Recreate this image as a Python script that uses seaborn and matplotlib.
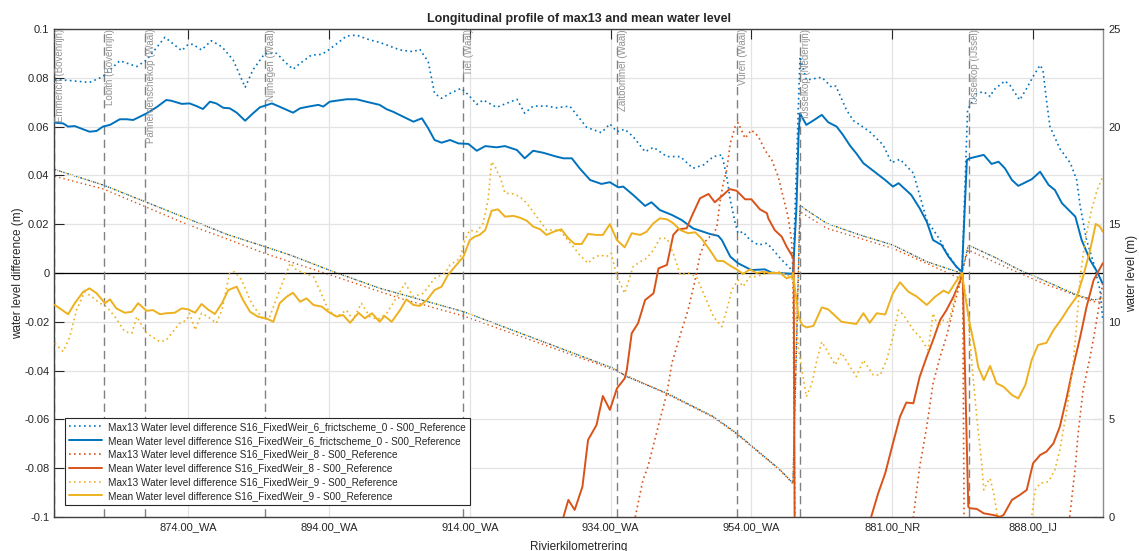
import numpy as np
import matplotlib
matplotlib.use("Agg")
import matplotlib.pyplot as plt
import seaborn as sns
from matplotlib.ticker import FuncFormatter

sns.set_style("white")
plt.rcParams["font.family"] = ["Liberation Sans", "DejaVu Sans"]

# ---------------------------------------------------------------------------
# Chainage along the plotted route (Waal -> Nederrijn -> IJssel), in km units
# of the profile axis, with the water level differences (m) per scenario.
# ---------------------------------------------------------------------------
fw6_max13 = [
    (0.07, 0.0791), (1.7, 0.0790), (5.0, 0.0781), (6.9, 0.0805), (9.3, 0.0870), (11.7, 0.0846),
    (13.1, 0.0873), (15.7, 0.0966), (18.1, 0.0911), (19.0, 0.0937), (19.7, 0.0937), (20.9, 0.0914),
    (22.3, 0.0952), (23.8, 0.0927), (25.4, 0.0873), (27.1, 0.0761), (28.2, 0.0832), (29.9, 0.0900),
    (31.6, 0.0900), (32.7, 0.0866), (33.9, 0.0835), (34.9, 0.0859), (36.5, 0.0893), (38.0, 0.0896),
    (39.1, 0.0917), (41.5, 0.0971), (42.9, 0.0975), (44.8, 0.0955), (46.2, 0.0945), (49.1, 0.0914),
    (51.0, 0.0907), (51.9, 0.0917), (53.1, 0.0866), (54.0, 0.0736), (55.0, 0.0716), (56.2, 0.0736),
    (57.8, 0.0757), (58.8, 0.0730), (60.0, 0.0691), (60.9, 0.0709), (62.8, 0.0679), (64.2, 0.0695),
    (65.7, 0.0712), (66.8, 0.0655), (68.0, 0.0684), (69.9, 0.0684), (71.3, 0.0677), (73.2, 0.0684),
    (74.2, 0.0648), (75.6, 0.0597), (77.7, 0.0575), (78.9, 0.0611), (79.9, 0.0579), (81.0, 0.0589),
    (82.2, 0.0559), (83.9, 0.0497), (85.1, 0.0515), (87.0, 0.0477), (88.9, 0.0477), (90.7, 0.0429),
    (92.2, 0.0443), (93.6, 0.0477), (94.8, 0.0484), (95.5, 0.0395), (96.0, 0.0299), (96.7, 0.0204),
    (97.1, 0.0163), (97.8, 0.0169), (98.8, 0.0135), (100.0, 0.0115), (101.2, 0.0122), (101.9, 0.0101),
    (103.1, 0.0060), (104.5, 0.0019), (104.9, 0.0000),
    (105.9, 0.0887), (106.8, 0.0791), (109.0, 0.0802), (110.4, 0.0761), (111.0, 0.0766), (112.5, 0.0668),
    (113.5, 0.0624), (114.4, 0.0607), (115.8, 0.0579), (117.7, 0.0525), (118.9, 0.0452), (120.1, 0.0466),
    (122.0, 0.0409), (123.9, 0.0217), (125.8, 0.0135), (126.5, 0.0094), (128.1, 0.0026), (128.9, 0.0000),
    (129.7, 0.0668), (131.0, 0.0736), (132.0, 0.0743), (132.9, 0.0723), (133.4, 0.0750), (135.0, 0.0787),
    (135.7, 0.0770), (137.1, 0.0709), (138.1, 0.0757), (139.0, 0.0805), (140.0, 0.0852), (140.4, 0.0832),
    (140.9, 0.0709), (141.4, 0.0600), (142.8, 0.0510), (144.3, 0.0450), (145.2, 0.0381), (145.7, 0.0272),
    (146.6, 0.0135), (147.6, 0.0040), (148.5, -0.0070), (148.9, -0.0190),
]

fw6_mean = [
    (0.07, 0.0616), (1.25, 0.0613), (1.96, 0.0600), (2.9, 0.0602), (5.0, 0.0579), (6.0, 0.0582),
    (6.9, 0.0600), (7.9, 0.0607), (9.3, 0.0630), (10.3, 0.0630), (11.2, 0.0627), (13.1, 0.0654),
    (14.5, 0.0679), (15.9, 0.0709), (16.6, 0.0706), (18.1, 0.0693), (19.2, 0.0695), (20.2, 0.0684),
    (21.1, 0.0672), (22.1, 0.0702), (23.0, 0.0695), (24.0, 0.0677), (24.9, 0.0675), (25.9, 0.0657),
    (27.1, 0.0624), (28.2, 0.0654), (29.2, 0.0679), (30.9, 0.0695), (32.5, 0.0675), (33.9, 0.0657),
    (34.9, 0.0675), (36.1, 0.0682), (37.5, 0.0689), (38.2, 0.0682), (39.1, 0.0702), (41.5, 0.0712),
    (42.9, 0.0712), (44.3, 0.0702), (46.2, 0.0689), (47.2, 0.0671), (48.1, 0.0661), (51.0, 0.0620),
    (52.2, 0.0634), (53.1, 0.0593), (54.0, 0.0545), (55.0, 0.0534), (56.2, 0.0545), (57.4, 0.0531),
    (58.8, 0.0529), (60.0, 0.0501), (61.2, 0.0520), (62.8, 0.0515), (64.0, 0.0520), (65.7, 0.0504),
    (66.8, 0.0470), (68.0, 0.0501), (69.4, 0.0493), (71.3, 0.0477), (72.3, 0.0470), (73.5, 0.0470),
    (74.6, 0.0429), (76.1, 0.0381), (77.7, 0.0365), (78.9, 0.0372), (80.1, 0.0351), (80.8, 0.0354),
    (82.2, 0.0320), (83.9, 0.0275), (84.8, 0.0290), (86.0, 0.0258), (87.7, 0.0238), (89.1, 0.0217),
    (90.7, 0.0183), (93.1, 0.0160), (94.3, 0.0152), (94.8, 0.0135), (96.0, 0.0067), (97.1, 0.0040),
    (99.0, 0.0012), (100.9, 0.0015), (101.9, 0.0001), (103.3, -0.0001), (104.9, -0.0004),
    (105.4, 0.0272), (105.7, 0.0570), (105.9, 0.0654), (106.8, 0.0607), (107.8, 0.0625), (109.0, 0.0648),
    (109.9, 0.0618), (111.1, 0.0600), (112.0, 0.0566), (113.0, 0.0522), (113.9, 0.0490), (114.9, 0.0450),
    (116.3, 0.0419), (118.0, 0.0381), (119.1, 0.0354), (119.9, 0.0368), (121.7, 0.0320), (122.9, 0.0265),
    (123.9, 0.0210), (124.8, 0.0135), (126.0, 0.0115), (127.0, 0.0067), (128.1, 0.0026), (128.9, 0.0005),
    (129.6, 0.0463), (130.0, 0.0470), (132.0, 0.0484), (133.1, 0.0447), (134.1, 0.0456), (135.0, 0.0429),
    (136.0, 0.0381), (136.9, 0.0357), (138.8, 0.0384), (140.0, 0.0415), (141.2, 0.0361), (142.1, 0.0340),
    (143.1, 0.0286), (145.0, 0.0231), (145.9, 0.0135), (147.1, 0.0053), (148.1, 0.0005), (148.9, -0.0045),
]

fw8_max13 = [
    (82.5, -0.1000), (83.6, -0.0848), (84.3, -0.0794), (86.0, -0.0602), (87.0, -0.0493), (87.7, -0.0370),
    (89.1, -0.0234), (90.0, -0.0152), (91.0, -0.0029), (91.7, 0.0074), (92.4, 0.0128), (93.1, 0.0149),
    (93.6, 0.0156), (94.1, 0.0190), (94.5, 0.0286), (95.0, 0.0368), (95.5, 0.0422), (96.0, 0.0532),
    (96.7, 0.0600), (97.1, 0.0616), (98.1, 0.0552), (99.0, 0.0586), (100.0, 0.0559), (100.9, 0.0504),
    (101.9, 0.0463), (102.8, 0.0395), (103.5, 0.0313), (104.2, 0.0231), (104.7, 0.0135), (104.9, 0.0000),
    (105.3, -0.1500), (121.8, -0.1100), (122.0, -0.1000), (122.9, -0.0794), (123.9, -0.0630),
    (124.8, -0.0452), (125.8, -0.0343), (126.7, -0.0261), (127.4, -0.0179), (128.1, -0.0097),
    (128.9, -0.0015), (129.0, 0.0000),
    (129.3, -0.1500), (144.0, -0.1100), (144.2, -0.1000), (145.0, -0.0794), (145.4, -0.0657),
    (146.1, -0.0480), (147.1, -0.0343), (147.8, -0.0234), (148.5, -0.0111), (148.9, -0.0042),
]

fw8_mean = [
    (72.3, -0.1000), (73.0, -0.0930), (73.9, -0.0971), (75.0, -0.0876), (75.8, -0.0684), (77.0, -0.0623),
    (77.9, -0.0504), (78.9, -0.0561), (79.9, -0.0473), (81.0, -0.0432), (81.3, -0.0398), (82.0, -0.0247),
    (82.9, -0.0206), (83.9, -0.0111), (85.1, -0.0083), (85.8, 0.0019), (87.0, 0.0033), (87.9, 0.0156),
    (88.6, 0.0179), (89.8, 0.0183), (90.5, 0.0231), (91.7, 0.0306), (92.9, 0.0324), (93.8, 0.0290),
    (95.0, 0.0320), (95.9, 0.0344), (96.9, 0.0337), (98.1, 0.0302), (99.0, 0.0302), (100.2, 0.0261),
    (101.2, 0.0245), (101.4, 0.0224), (102.3, 0.0176), (103.3, 0.0149), (104.0, 0.0108), (104.7, 0.0074),
    (105.0, 0.0060),
    (105.2, -0.1500), (115.8, -0.1100), (116.0, -0.1000), (117.0, -0.0903), (118.0, -0.0821),
    (119.1, -0.0698), (120.1, -0.0589), (121.0, -0.0531), (122.0, -0.0534), (122.9, -0.0425),
    (123.9, -0.0343), (124.8, -0.0275), (125.8, -0.0193), (126.7, -0.0152), (127.7, -0.0097),
    (128.4, -0.0049), (129.0, -0.0004),
    (129.8, -0.0958), (130.0, -0.0964), (131.0, -0.0967), (132.0, -0.0985), (133.4, -0.0992),
    (134.3, -0.0999), (134.8, -0.0992), (136.0, -0.0930), (137.1, -0.0910), (138.1, -0.0889),
    (139.0, -0.0780), (140.0, -0.0746), (140.9, -0.0732), (141.9, -0.0698), (142.8, -0.0630),
    (143.8, -0.0507), (144.7, -0.0384), (145.7, -0.0261), (146.6, -0.0138), (147.6, -0.0029),
    (148.9, 0.0040),
]

fw9_max13 = [
    (0.07, -0.0288), (1.25, -0.0322), (2.2, -0.0261), (3.15, -0.0152), (4.3, -0.0077), (5.3, -0.0097),
    (6.5, -0.0124), (7.4, -0.0138), (8.6, -0.0179), (10.0, -0.0240), (11.0, -0.0247), (11.7, -0.0179),
    (13.1, -0.0247), (15.0, -0.0282), (15.9, -0.0275), (17.8, -0.0206), (18.8, -0.0193), (19.2, -0.0165),
    (20.0, -0.0234), (20.9, -0.0165), (21.8, -0.0179), (23.0, -0.0206), (23.8, -0.0152), (24.9, -0.0001),
    (25.6, 0.0005), (26.6, -0.0029), (28.0, -0.0124), (29.7, -0.0193), (30.6, -0.0179), (32.0, -0.0070),
    (33.5, 0.0040), (34.4, 0.0012), (36.8, -0.0015), (37.7, -0.0070), (38.9, -0.0152), (40.1, -0.0179),
    (41.5, -0.0152), (42.4, -0.0193), (43.6, -0.0124), (44.8, -0.0179), (46.0, -0.0190), (47.2, -0.0165),
    (48.4, -0.0110), (49.8, -0.0042), (51.0, -0.0097), (52.4, -0.0083), (54.0, -0.0022), (55.5, 0.0000),
    (56.2, 0.0033), (57.6, 0.0060), (58.3, 0.0135), (59.0, 0.0176), (60.0, 0.0169), (60.9, 0.0204),
    (61.6, 0.0300), (62.1, 0.0456), (62.6, 0.0436), (63.0, 0.0409), (63.3, 0.0395), (64.0, 0.0327),
    (65.2, 0.0324), (66.1, 0.0313), (67.1, 0.0286), (68.5, 0.0231), (69.9, 0.0176), (71.8, 0.0176),
    (72.5, 0.0149), (73.7, 0.0108), (74.6, 0.0074), (75.8, 0.0040), (76.5, 0.0060), (77.5, 0.0074),
    (78.4, 0.0067), (79.1, 0.0081), (79.9, -0.0015), (81.0, -0.0083), (82.2, 0.0026), (83.2, 0.0046),
    (84.1, 0.0060), (85.1, 0.0094), (86.0, 0.0142), (87.0, 0.0142), (87.9, 0.0081), (88.9, -0.0008),
    (90.0, 0.0000), (91.2, -0.0015), (92.4, -0.0097), (93.6, -0.0179), (94.8, -0.0220), (95.5, -0.0152),
    (96.2, -0.0070), (97.1, -0.0029), (97.8, -0.0056), (98.8, -0.0015), (99.7, -0.0015), (101.2, 0.0000),
    (103.1, 0.0005), (104.5, -0.0015), (104.9, -0.0029),
    (105.7, -0.0316), (106.4, -0.0439), (106.8, -0.0507), (107.6, -0.0452), (108.3, -0.0357),
    (109.0, -0.0282), (109.7, -0.0316), (110.9, -0.0377), (111.8, -0.0327), (112.7, -0.0370),
    (113.9, -0.0425), (114.9, -0.0357), (116.3, -0.0418), (117.3, -0.0418), (118.2, -0.0357),
    (119.1, -0.0261), (119.9, -0.0152), (120.6, -0.0172), (122.0, -0.0234), (122.9, -0.0261),
    (124.1, -0.0316), (124.8, -0.0165), (125.5, -0.0220), (126.3, -0.0193), (127.0, -0.0203),
    (127.7, -0.0124), (128.4, -0.0042), (128.9, 0.0000),
    (129.6, -0.0120), (130.3, -0.0370), (131.0, -0.0589), (131.7, -0.0780), (132.0, -0.0889),
    (132.4, -0.0862), (132.9, -0.0842), (133.4, -0.0903), (133.8, -0.0971), (134.2, -0.1100),
    (138.5, -0.1100), (138.8, -0.0999), (139.3, -0.0889), (140.0, -0.0862), (141.2, -0.0855),
    (142.1, -0.0807), (142.8, -0.0725), (143.8, -0.0561), (144.7, -0.0370), (145.2, -0.0206),
    (145.7, -0.0015), (146.4, 0.0135), (147.3, 0.0258), (148.1, 0.0340), (148.9, 0.0395),
]

fw9_mean = [
    (0.07, -0.0131), (1.96, -0.0169), (2.9, -0.0124), (4.1, -0.0077), (5.0, -0.0063), (6.0, -0.0083),
    (7.2, -0.0124), (7.9, -0.0108), (8.8, -0.0145), (10.0, -0.0163), (11.0, -0.0159), (11.9, -0.0124),
    (13.1, -0.0155), (14.0, -0.0152), (15.0, -0.0169), (15.9, -0.0165), (17.1, -0.0163), (18.1, -0.0145),
    (19.0, -0.0149), (20.0, -0.0163), (20.9, -0.0127), (21.8, -0.0149), (22.8, -0.0168), (23.8, -0.0124),
    (24.7, -0.0070), (25.9, -0.0056), (26.8, -0.0111), (27.8, -0.0159), (28.9, -0.0179), (30.1, -0.0186),
    (31.1, -0.0200), (32.0, -0.0124), (33.0, -0.0097), (33.9, -0.0081), (34.9, -0.0118), (35.8, -0.0104),
    (36.8, -0.0131), (38.0, -0.0138), (38.9, -0.0159), (40.1, -0.0179), (41.0, -0.0172), (42.0, -0.0204),
    (43.2, -0.0163), (44.1, -0.0186), (45.1, -0.0165), (46.2, -0.0200), (46.9, -0.0176), (47.9, -0.0200),
    (49.1, -0.0152), (50.0, -0.0108), (51.0, -0.0131), (51.9, -0.0135), (52.9, -0.0111), (54.0, -0.0070),
    (55.0, -0.0056), (55.9, -0.0008), (57.1, 0.0033), (58.1, 0.0067), (59.0, 0.0135), (59.7, 0.0149),
    (60.4, 0.0156), (61.2, 0.0176), (62.1, 0.0255), (63.0, 0.0261), (64.0, 0.0231), (65.2, 0.0234),
    (66.1, 0.0227), (67.1, 0.0214), (68.0, 0.0190), (69.0, 0.0179), (69.9, 0.0156), (70.9, 0.0169),
    (72.0, 0.0179), (73.0, 0.0142), (73.9, 0.0119), (74.9, 0.0119), (75.8, 0.0160), (77.0, 0.0156),
    (77.9, 0.0156), (78.9, 0.0200), (79.9, 0.0135), (81.0, 0.0105), (82.0, 0.0163), (83.2, 0.0156),
    (84.1, 0.0169), (85.1, 0.0204), (86.0, 0.0224), (87.0, 0.0220), (87.9, 0.0204), (88.9, 0.0176),
    (90.0, 0.0163), (91.0, 0.0167), (91.9, 0.0142), (93.1, 0.0094), (94.1, 0.0050), (95.0, 0.0049),
    (96.2, 0.0026), (96.9, 0.0015), (97.8, -0.0004), (98.8, 0.0015), (99.7, 0.0000), (100.7, 0.0005),
    (101.6, 0.0000), (103.1, 0.0000), (104.0, -0.0022), (104.7, -0.0015), (104.9, 0.0000),
    (105.7, -0.0179), (106.2, -0.0213), (106.8, -0.0223), (107.8, -0.0217), (109.0, -0.0141),
    (109.9, -0.0149), (111.8, -0.0200), (113.9, -0.0209), (114.9, -0.0165), (115.8, -0.0204),
    (116.8, -0.0165), (118.0, -0.0170), (119.1, -0.0083), (120.1, -0.0038), (121.3, -0.0077),
    (122.5, -0.0097), (123.9, -0.0131), (125.1, -0.0097), (126.3, -0.0072), (127.0, -0.0083),
    (127.9, -0.0042), (128.9, 0.0000),
    (129.3, -0.0083), (130.0, -0.0206), (130.8, -0.0316), (131.2, -0.0384), (132.0, -0.0439),
    (132.9, -0.0381), (133.8, -0.0452), (134.8, -0.0466), (136.0, -0.0500), (136.9, -0.0514),
    (137.9, -0.0459), (138.8, -0.0357), (139.7, -0.0295), (140.9, -0.0286), (141.9, -0.0234),
    (143.1, -0.0186), (144.0, -0.0145), (145.2, -0.0097), (146.1, -0.0015), (147.1, 0.0094),
    (147.9, 0.0201), (148.5, 0.0190), (148.9, 0.0169),
]

# Water levels (m) on the right-hand axis
level_common = [
    (0.07, 17.80), (7.0, 17.00), (12.9, 16.15), (18.8, 15.30), (24.5, 14.48), (29.9, 13.85),
    (33.5, 13.42), (39.6, 12.57), (46.2, 11.72), (58.1, 10.52), (79.4, 7.62), (81.3, 7.19),
    (87.0, 6.34), (93.6, 5.14), (96.9, 4.29), (103.1, 2.41), (104.9, 1.73),
    (105.9, 15.98), (106.8, 15.73), (109.7, 15.04), (114.4, 14.45), (119.1, 13.93), (123.9, 13.08),
    (128.9, 12.48),
    (129.8, 13.93), (133.4, 13.33), (137.1, 12.65), (140.4, 12.14), (145.2, 11.37), (147.6, 11.12),
    (148.9, 11.20),
]
level_fw8 = [
    (0.07, 17.45), (7.0, 16.80), (12.9, 15.90), (18.8, 15.00), (24.5, 14.25), (29.9, 13.50),
    (39.6, 12.35), (49.1, 11.20), (58.1, 10.30), (79.4, 7.55), (87.0, 6.30), (93.6, 5.10),
    (96.9, 4.25), (103.1, 2.38), (104.9, 1.70),
    (105.9, 15.64), (109.7, 14.79), (119.1, 13.76), (128.6, 12.23),
    (129.8, 13.68), (133.4, 13.08), (140.4, 11.97), (147.6, 11.03), (148.9, 11.00),
]

# Locations marked along the profile
location_km = [0.0, 7.0, 12.9, 29.9, 58.0, 79.9, 97.0, 105.9, 129.9]
location_names = [
    "Emmerich (Bovenrijn)", "Lobith (Bovenrijn)", "Pannerdenschekop (Waal)", "Nijmegen (Waal)",
    "Tiel (Waal)", "Zaltbommel (Waal)", "Vuren (Waal)", "IJsselkop (Nederrijn)", "IJsselkop (IJssel)",
]

tick_km = [19, 39, 59, 79, 99, 119, 139]
tick_labels = ["874.00_WA", "894.00_WA", "914.00_WA", "934.00_WA", "954.00_WA", "881.00_NR", "888.00_IJ"]

legend_labels = [
    "Max13 Water level difference S16_FixedWeir_6_frictscheme_0 - S00_Reference",
    "Mean Water level difference S16_FixedWeir_6_frictscheme_0 - S00_Reference",
    "Max13 Water level difference S16_FixedWeir_8 - S00_Reference",
    "Mean Water level difference S16_FixedWeir_8 - S00_Reference",
    "Max13 Water level difference S16_FixedWeir_9 - S00_Reference",
    "Mean Water level difference S16_FixedWeir_9 - S00_Reference",
]

BLUE, ORANGE, YELLOW = "#0072BD", "#D95319", "#EDB120"
DARK = "#262626"

fig = plt.figure(figsize=(11.39, 5.51), dpi=100)
ax = fig.add_axes([0.0477, 0.0617, 0.9205, 0.8857])
ax2 = ax.twinx()
ax.set_zorder(ax2.get_zorder() + 1)
ax.patch.set_visible(False)


def draw(axis, pairs, color, style, lw, label=None, zorder=2):
    arr = np.array(pairs)
    sns.lineplot(x=arr[:, 0], y=arr[:, 1], ax=axis, color=color, linestyle=style,
                 linewidth=lw, sort=False, estimator=None, errorbar=None,
                 legend=False, label=label, zorder=zorder)
    return axis.lines[-1]


# water levels (right axis)
draw(ax2, level_common, BLUE, (0, (1, 2.2)), 1.0)
draw(ax2, level_common, YELLOW, (1.6, (1, 2.2)), 1.0)
draw(ax2, level_common, "#333333", (0.8, (0.8, 5.6)), 0.8)
draw(ax2, level_fw8, ORANGE, (0, (1, 2.2)), 1.0)

# reference line and location markers
ax.axhline(0, color="black", lw=0.9, zorder=1.5)
for km, name in zip(location_km, location_names):
    ax.axvline(km, color="#808080", lw=1.0, ls=(0, (6, 3.5)), zorder=1.6)
    ax.text(km + 0.15, 0.1, name, rotation=90, ha="left", va="top", fontsize=7,
            color="#939393", zorder=6)

# water level differences (left axis)
handles = []
for pairs, color, style, lw, lab in [
    (fw6_max13, BLUE, (0, (1, 2)), 1.2, legend_labels[0]),
    (fw6_mean, BLUE, "-", 1.4, legend_labels[1]),
    (fw8_max13, ORANGE, (0, (1, 2)), 1.2, legend_labels[2]),
    (fw8_mean, ORANGE, "-", 1.4, legend_labels[3]),
    (fw9_max13, YELLOW, (0, (1, 2)), 1.2, legend_labels[4]),
    (fw9_mean, YELLOW, "-", 1.4, legend_labels[5]),
]:
    handles.append(draw(ax, pairs, color, style, lw, label=lab, zorder=3))

# axes limits, ticks and grid
ax.set_xlim(0, 148.9)
ax.set_ylim(-0.1, 0.1)
ax2.set_ylim(0, 25)
ax.set_xticks(tick_km)
ax.set_xticklabels(tick_labels)
ax.set_yticks(np.round(np.arange(-0.1, 0.1001, 0.02), 2))
ax.yaxis.set_major_formatter(FuncFormatter(lambda v, p: "0" if abs(v) < 1e-9 else f"{v:g}"))
ax2.set_yticks([0, 5, 10, 15, 20, 25])

ax.grid(True, color="#e3e3e3", lw=0.9)
ax.set_axisbelow(True)

ax.tick_params(axis="both", direction="in", length=7, width=0.8, colors=DARK,
               labelsize=8, top=True, pad=4)
ax.tick_params(axis="y", right=False, pad=3.5)
ax2.tick_params(axis="y", direction="in", length=7, width=0.8, color="#8c8c8c",
                labelcolor=DARK, labelsize=8, pad=4)

for side in ["left", "top", "bottom"]:
    ax.spines[side].set_color("#404040")
    ax.spines[side].set_linewidth(1.0)
    ax2.spines[side].set_visible(False)
ax.spines["right"].set_visible(False)
ax2.spines["right"].set_color("#8c8c8c")
ax2.spines["right"].set_linewidth(1.0)

ax.set_title("Longitudinal profile of max13 and mean water level", fontsize=9,
             fontweight="bold", color=DARK, pad=5)
ax.set_ylabel("water level difference (m)", fontsize=8.5, color=DARK, labelpad=0)
ax2.set_ylabel("water level (m)", fontsize=8.5, color=DARK, labelpad=4)
ax.set_xlabel("Rivierkilometrering", fontsize=8.5, color=DARK, labelpad=6)

leg = ax.legend(handles, legend_labels, loc="lower left", bbox_to_anchor=(0.0102, 0.0246),
                borderaxespad=0, fontsize=7.2, frameon=True, fancybox=False,
                edgecolor=DARK, framealpha=1, handlelength=3.3, handletextpad=0.6,
                labelspacing=0.38, borderpad=0.4)
leg.get_frame().set_linewidth(0.8)
leg.set_zorder(10)

fig.savefig("out.png", dpi=100, facecolor="white")
